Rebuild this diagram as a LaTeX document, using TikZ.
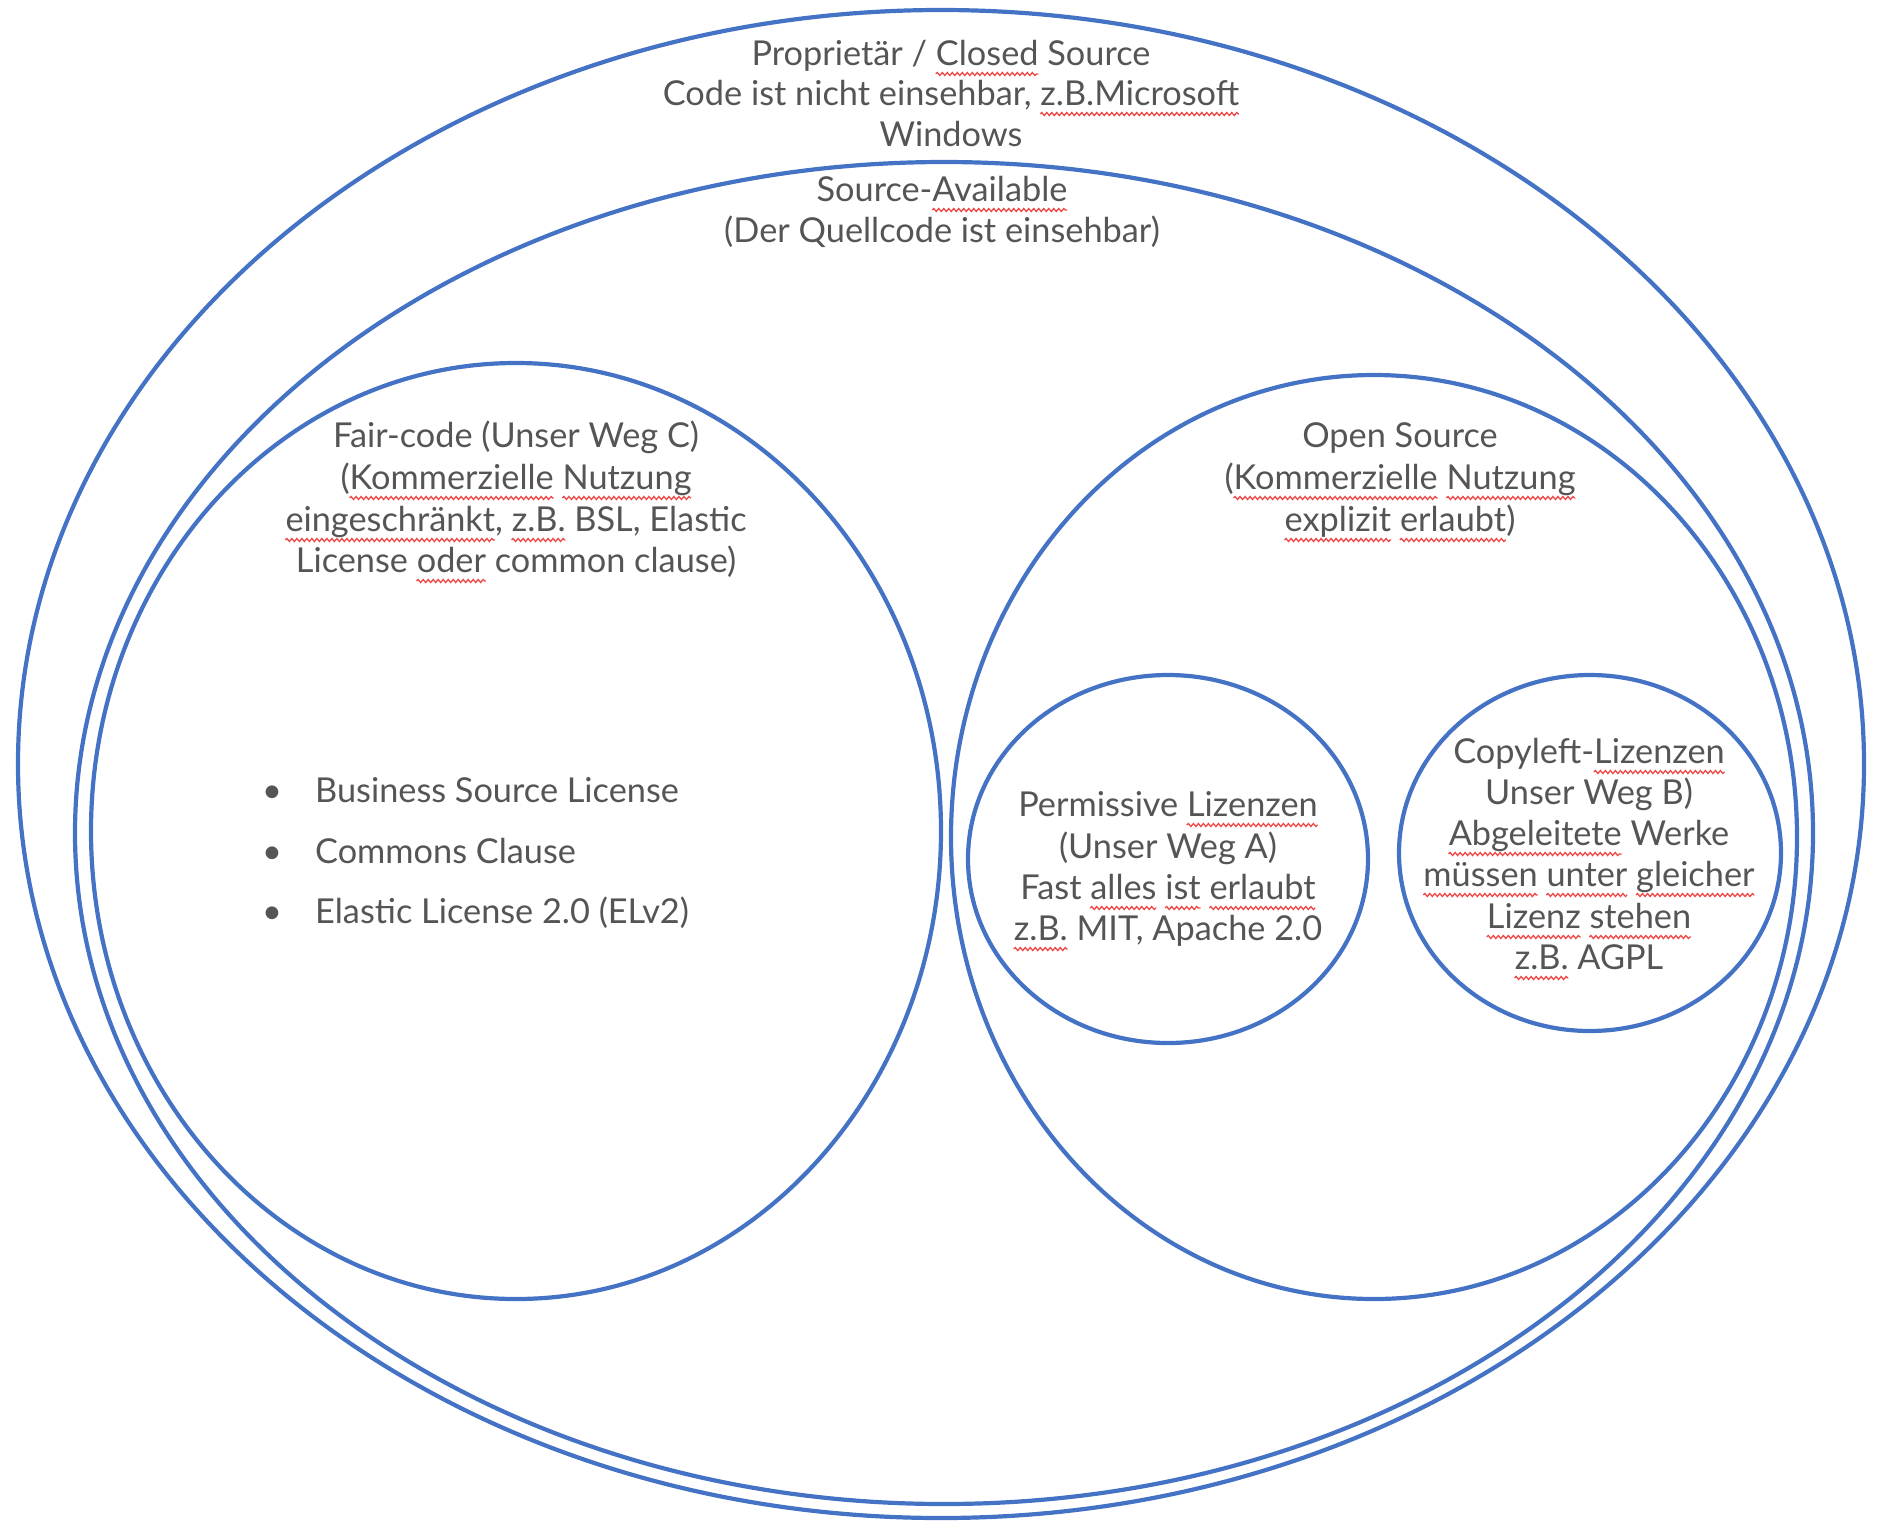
\documentclass[tikz,border=0pt]{standalone}
\usepackage{fontspec}
\setmainfont{Lato}
\usetikzlibrary{shapes.geometric,decorations.pathmorphing}
\definecolor{lineblue}{HTML}{4472C4}
\definecolor{txtgray}{HTML}{555555}
\definecolor{wavered}{HTML}{F04848}
\newcommand\txtfont{\fontsize{34.3}{40}\selectfont}
\newdimen\wvA
\newdimen\wvB
\newbox\wvbox
\newcommand\wv[3]{%
  \pgfinterruptpicture
    \setbox\wvbox=\hbox{\txtfont #2}\global\wvA=\wd\wvbox
    \setbox\wvbox=\hbox{\txtfont #2#3}\global\wvB=\wd\wvbox
  \endpgfinterruptpicture
  \edef\wvpath{\noexpand\draw[wavy] ([xshift=\the\wvA,yshift=-9pt]#1.base west) -- ([xshift=\the\wvB,yshift=-9pt]#1.base west);}%
  \wvpath}
\begin{document}
\begin{tikzpicture}[x=1pt,y=-1pt,
  ell/.style={ellipse, draw=lineblue, line width=4.2pt, inner sep=0pt, outer sep=0pt},
  txt/.style={anchor=base, inner sep=0pt, text=txtgray, font=\txtfont},
  txtl/.style={txt, anchor=base west},
  wavy/.style={draw=wavered, line width=1.3pt, decorate, decoration={snake, amplitude=1.5pt, segment length=5pt}}]
\useasboundingbox (0,0) rectangle (1887,1532);

% circles / ellipses
\node[ell, minimum width=1846pt, minimum height=1508pt] (outer) at (941,764) {};
\node[ell, minimum width=1738pt, minimum height=1342pt] (sa) at (944,833) {};
\node[ell, minimum width=850pt, minimum height=936pt] (fair) at (516,831) {};
\node[ell, minimum width=846pt, minimum height=924pt] (open) at (1374,837) {};
\node[ell, minimum width=400pt, minimum height=368pt] (perm) at (1168,859) {};
\node[ell, minimum width=382pt, minimum height=356pt] (copy) at (1590,853) {};

% top texts
\node[txt] (t1) at (951,65) {Proprietär / Closed Source};
\node[txt] (t2) at (951,105) {Code ist nicht einsehbar, z.B.Microsoft};
\node[txt] (t3) at (951,146) {Windows};
\node[txt] (s1) at (942,201) {Source-Available};
\node[txt] (s2) at (942,242) {(Der Quellcode ist einsehbar)};

% fair-code
\node[txt] (f1) at (516,447) {Fair-code (Unser Weg C)};
\node[txt] (f2) at (516,489) {(Kommerzielle Nutzung};
\node[txt] (f3) at (516,531) {eingeschränkt, z.B. BSL, Elastic};
\node[txt] (f4) at (516,572) {License oder common clause)};

% bullets
\node[txt] (b1d) at (272,802) {•};
\node[txtl] (b1) at (315,802) {Business Source License};
\node[txt] (b2d) at (272,863) {•};
\node[txtl] (b2) at (315,863) {Commons Clause};
\node[txt] (b3d) at (272,923) {•};
\node[txtl] (b3) at (315,923) {Elastic License 2.0 (ELv2)};

% open source
\node[txt] (o1) at (1400,447) {Open Source};
\node[txt] (o2) at (1400,489) {(Kommerzielle Nutzung};
\node[txt] (o3) at (1400,531) {explizit erlaubt)};

% permissive
\node[txt] (p1) at (1168,816) {Permissive Lizenzen};
\node[txt] (p2) at (1168,858) {(Unser Weg A)};
\node[txt] (p3) at (1168,899) {Fast alles ist erlaubt};
\node[txt] (p4) at (1168,940) {z.B. MIT, Apache 2.0};

% copyleft
\node[txt] (c1) at (1589,763) {Copyleft-Lizenzen};
\node[txt] (c2) at (1589,804) {Unser Weg B)};
\node[txt] (c3) at (1589,845) {Abgeleitete Werke};
\node[txt] (c4) at (1589,886) {müssen unter gleicher};
\node[txt] (c5) at (1589,928) {Lizenz stehen};
\node[txt] (c6) at (1589,969) {z.B. AGPL};

% spell-check squiggles
\wv{t1}{Proprietär / }{Closed}
\wv{t2}{Code ist nicht einsehbar, }{z.B.Microsoft}
\wv{s1}{Source-}{Available}
\wv{f2}{(}{Kommerzielle}
\wv{f2}{(Kommerzielle }{Nutzung}
\wv{f3}{}{eingeschränkt}
\wv{f3}{eingeschränkt, }{z.B.}
\wv{f4}{License }{oder}
\wv{o2}{(}{Kommerzielle}
\wv{o2}{(Kommerzielle }{Nutzung}
\wv{o3}{}{explizit}
\wv{o3}{explizit }{erlaubt}
\wv{p1}{Permissive }{Lizenzen}
\wv{p3}{Fast }{alles}
\wv{p3}{Fast alles }{ist}
\wv{p3}{Fast alles ist }{erlaubt}
\wv{p4}{}{z.B.}
\wv{c1}{Copyleft-}{Lizenzen}
\wv{c3}{}{Abgeleitete}
\wv{c4}{}{müssen}
\wv{c4}{müssen }{unter}
\wv{c4}{müssen unter }{gleicher}
\wv{c5}{}{Lizenz}
\wv{c5}{Lizenz }{stehen}
\wv{c6}{}{z.B.}
\end{tikzpicture}
\end{document}
